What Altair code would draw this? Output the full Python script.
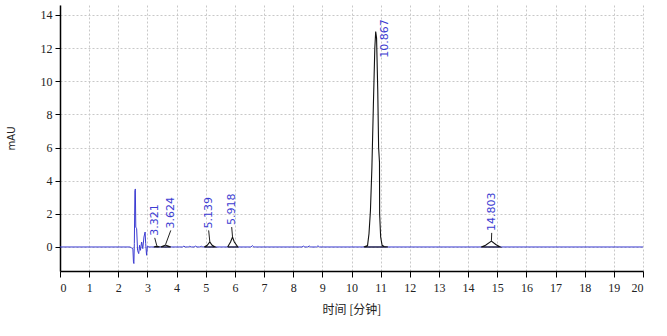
import altair as alt
import pandas as pd

# Raw detector signal (blue trace): retention time [min], signal [mAU]
raw_t = [0.0, 2.40, 2.45, 2.50, 2.52, 2.535, 2.55, 2.57, 2.585, 2.60, 2.63, 2.66, 2.70, 2.73,
         2.76, 2.80, 2.84, 2.88, 2.92, 2.94, 2.97, 3.00, 3.05, 4.20, 4.25, 4.30, 4.40, 4.45,
         4.50, 4.60, 4.65, 4.70, 4.80, 4.85, 4.90, 6.55, 6.60, 6.65, 8.30, 8.35, 8.40, 8.50,
         8.55, 8.60, 8.80, 8.85, 8.90, 9.00, 20.0]
raw_v = [0.0, 0.0, -0.05, -0.1, -0.9, -1.0, 0.2, 3.4, 3.5, 1.2, 1.1, -0.2, -0.4, 0.1,
         -0.2, 0.3, -0.1, 0.6, 0.9, 0.2, -0.5, 0.05, 0.0, 0.0, 0.05, 0.0, 0.0, 0.04,
         0.0, 0.0, 0.05, 0.0, 0.0, 0.04, 0.0, 0.0, 0.08, 0.0, 0.0, 0.05, 0.0, 0.0,
         0.06, 0.0, 0.0, 0.07, 0.0, 0.0, 0.0]

# Integrated peaks (black): peak id, time, signal (closed along the baseline)
pk_id = (["3.321"] * 4 + ["3.624"] * 4 + ["5.139"] * 6 + ["5.918"] * 6 +
         ["10.867"] * 19 + ["14.803"] * 6)
pk_t = [3.22, 3.32, 3.42, 3.22,
        3.45, 3.62, 3.80, 3.45,
        4.95, 5.05, 5.139, 5.22, 5.32, 4.95,
        5.75, 5.85, 5.918, 5.98, 6.10, 5.75,
        10.42, 10.55, 10.60, 10.65, 10.70, 10.75, 10.80, 10.83, 10.86, 10.90, 10.93,
        10.96, 10.965, 11.00, 11.05, 11.12, 11.25, 11.25, 10.42,
        14.45, 14.60, 14.80, 14.95, 15.10, 14.45]
pk_v = [0.0, 0.06, 0.0, 0.0,
        0.0, 0.12, 0.0, 0.0,
        0.0, 0.1, 0.3, 0.1, 0.0, 0.0,
        0.0, 0.3, 0.6, 0.3, 0.0, 0.0,
        0.0, 0.08, 0.8, 2.2, 4.8, 8.5, 12.0, 13.0, 12.6, 9.5, 6.0,
        5.1, 2.0, 0.6, 0.1, 0.03, 0.0, 0.0, 0.0,
        0.0, 0.1, 0.35, 0.15, 0.0, 0.0]

# Peak labels: text, label anchor time, label anchor signal, peak top
lab_text = ["3.321", "3.624", "5.139", "5.918", "10.867", "14.803"]
lab_t = [3.25, 3.80, 5.10, 5.89, 11.14, 14.81]
lab_v = [0.55, 1.0, 1.0, 1.2, 11.3, 0.85]
top_t = [3.32, 3.62, 5.139, 5.918, 10.867, 14.80]
top_v = [0.08, 0.14, 0.32, 0.62, 13.0, 0.37]

x_ticks = list(range(0, 21))
y_ticks = [0, 2, 4, 6, 8, 10, 12, 14]

raw = pd.DataFrame({"t": raw_t, "v": raw_v})
peaks = pd.DataFrame({"peak": pk_id, "t": pk_t, "v": pk_v, "i": list(range(len(pk_t)))})
labels = pd.DataFrame({"txt": lab_text, "t": lab_t, "v": lab_v, "t0": top_t, "v0": top_v})
leaders = labels[labels["txt"] != "10.867"]

xs = alt.Scale(domain=[0, 20], nice=False, zero=False)
ys = alt.Scale(domain=[-1.45, 14.6], nice=False, zero=False)

xax = alt.Axis(values=x_ticks, title="时间 [分钟]", grid=True, gridDash=[2, 2],
               gridColor="#c8c8c8", domainColor="#000", domainWidth=1.5, tickColor="#000",
               tickSize=6, labelFontSize=12, labelColor="#222", labelPadding=5,
               labelOverlap=False, labelBound=False, format="d",
               titleFont="Noto Sans CJK SC", titleFontSize=12, titleFontWeight="normal",
               titleColor="#222", titlePadding=11, labelFont="Liberation Serif")
yax = alt.Axis(values=y_ticks, title="mAU", grid=True, gridDash=[2, 2],
               gridColor="#c8c8c8", domainColor="#000", domainWidth=1.5, tickColor="#000",
               tickSize=5, labelFontSize=12, labelColor="#222", labelPadding=3,
               labelOverlap=False, format="d",
               titleFontSize=10, titleFontWeight="normal", titleColor="#222",
               titlePadding=24, labelFont="Liberation Serif", titleFont="DejaVu Sans")

X = lambda f: alt.X(f, type="quantitative", scale=xs, axis=xax)
Y = lambda f: alt.Y(f, type="quantitative", scale=ys, axis=yax)

base_raw = alt.Chart(raw).mark_line(color="#3c3cd2", strokeWidth=1, clip=True).encode(
    x=X("t"), y=Y("v"),
)

pk = alt.Chart(peaks).mark_line(color="#111", strokeWidth=1.1, clip=True).encode(
    x=X("t"), y=Y("v"),
    detail="peak:N",
    order="i:Q",
)

lead = alt.Chart(leaders).mark_rule(color="#222", strokeWidth=1).encode(
    x=X("t0"), y=Y("v0"),
    x2="t:Q", y2="v:Q",
)

txt = alt.Chart(labels).mark_text(angle=270, align="left", baseline="middle",
                                  color="#3c3cd2", fontSize=11, font="DejaVu Sans", dx=2).encode(
    x=X("t"), y=Y("v"), text="txt:N",
)

chart = (base_raw + pk + lead + txt).properties(
    width=583, height=266,
    padding={"left": 60, "top": 5, "right": 24, "bottom": 65},
    autosize=alt.AutoSizeParams(type="none"),
    background="white",
).configure_view(stroke=None)

chart.save("out.html", embed_options={"renderer": "svg", "actions": False})
